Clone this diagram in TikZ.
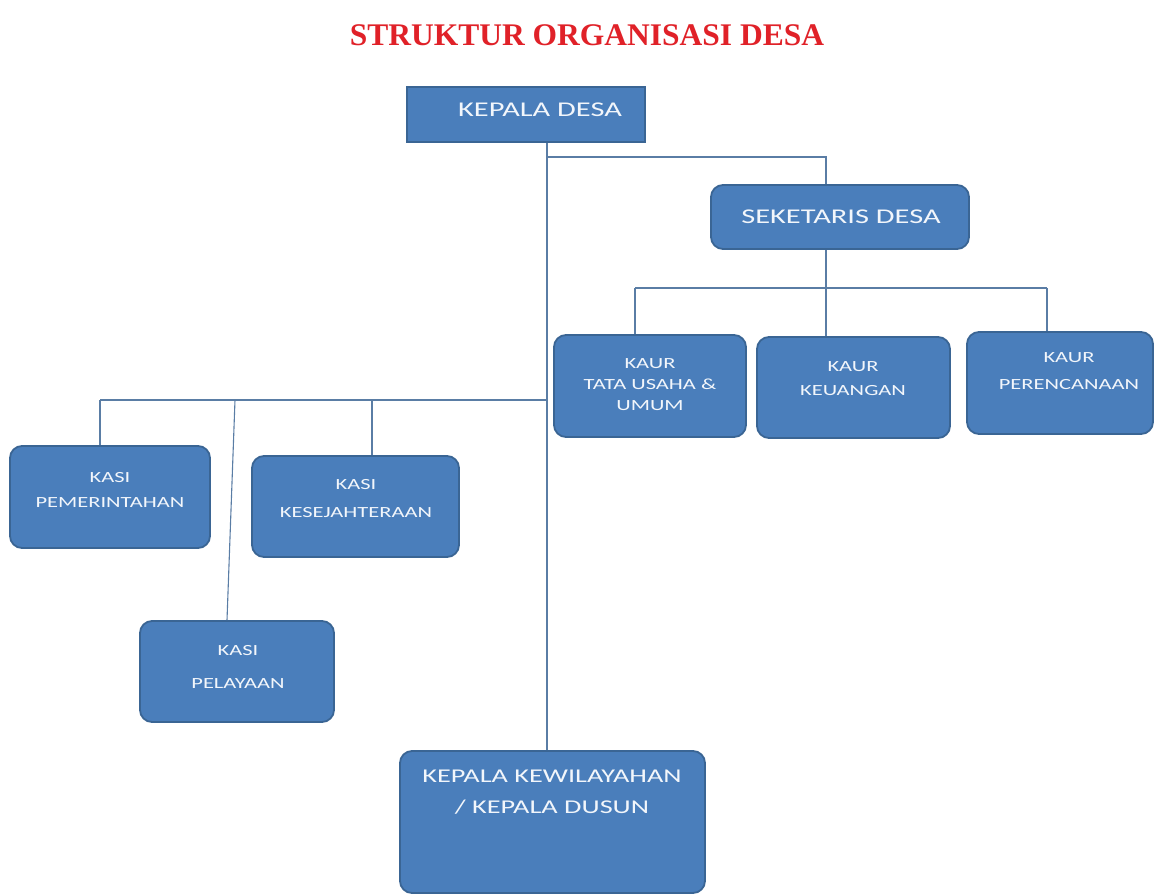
\documentclass[tikz,border=0pt]{standalone}
\usepackage{fontspec}
\newfontfamily\boxfont[FakeStretch=1.45]{Carlito}
\newfontfamily\titlefont{Liberation Serif}
\definecolor{boxfill}{HTML}{4A7EBB}
\definecolor{boxedge}{HTML}{3A6594}
\definecolor{boxtext}{HTML}{F2F6FB}
\definecolor{linecol}{HTML}{5A7DA5}
\definecolor{titlered}{HTML}{E02128}
\begin{document}
\begin{tikzpicture}[x=1pt,y=-1pt,
  box/.style={draw=boxedge, line width=1.8pt, fill=boxfill, rounded corners=12pt, inner sep=0pt},
  sqbox/.style={box, sharp corners},
  lbl/.style={text=boxtext, align=center, inner sep=0pt},
  small/.style={lbl, font=\boxfont\fontsize{15.5}{25}\selectfont},
  big/.style={lbl, font=\boxfont\fontsize{21}{30}\selectfont},
  conn/.style={draw=linecol, line width=1.1pt}]
\useasboundingbox (0,0) rectangle (1154,896);

% title
\node[text=titlered, font=\titlefont\bfseries\fontsize{31.5}{36}\selectfont, inner sep=0pt] (title) at (587,35) {STRUKTUR ORGANISASI DESA};

% boxes
\node[sqbox, minimum width=238, minimum height=55] (kd) at (526,114.5) {};
\node[box, minimum width=258, minimum height=64] (sd) at (840,217) {};
\node[box, minimum width=192, minimum height=102] (k1) at (650,386) {};
\node[box, minimum width=193, minimum height=101] (k2) at (853.5,387.5) {};
\node[box, minimum width=186, minimum height=102] (k3) at (1060,383) {};
\node[box, minimum width=200, minimum height=102] (ks1) at (110,497) {};
\node[box, minimum width=207, minimum height=101] (ks2) at (355.5,506.5) {};
\node[box, minimum width=194, minimum height=101] (ks3) at (237,671.5) {};
\node[box, minimum width=305, minimum height=142] (kw) at (552.5,822) {};

% labels
\node[big] (kdT) at (540,110) {KEPALA DESA};
\node[big] (sdT) at (841,217) {SEKETARIS DESA};
\node[small, font=\boxfont\fontsize{15.5}{21}\selectfont] (k1T) at (650,385) {KAUR\\TATA USAHA \&\\UMUM};
\node[small, font=\boxfont\fontsize{15.5}{24}\selectfont] (k2T) at (853,379) {KAUR\\KEUANGAN};
\node[small, font=\boxfont\fontsize{15.5}{27}\selectfont] (k3T) at (1069,371.5) {KAUR\\PERENCANAAN};
\node[small] (ks1T) at (110,489.5) {KASI\\PEMERINTAHAN};
\node[small, font=\boxfont\fontsize{15.5}{28}\selectfont] (ks2T) at (356,499) {KASI\\KESEJAHTERAAN};
\node[small, font=\boxfont\fontsize{15.5}{33}\selectfont] (ks3T) at (238,666.5) {KASI\\PELAYAAN};
\node[big, font=\boxfont\fontsize{19.5}{31}\selectfont] (kwT) at (552,792.5) {KEPALA KEWILAYAHAN\\/ KEPALA DUSUN};

% junction coordinates
\coordinate (sp) at (547,0);
\coordinate (sdx) at (826,0);
\coordinate (j1) at (547,157);
\coordinate (j2) at (826,288);
\coordinate (ja) at (635,288);
\coordinate (jc) at (1047,288);
\coordinate (jl) at (100,400);
\coordinate (jr) at (547,400);
\coordinate (jm) at (235,400);
\coordinate (jn) at (372,400);
\coordinate (jmb) at (227,0);

% connectors
\draw[conn] (kd.south -| sp) -- (kw.north -| sp);
\draw[conn] (j1) -| (sd.north -| sdx);
\draw[conn] (sd.south -| sdx) -- (k2.north -| sdx);
\draw[conn] (ja) -- (jc);
\draw[conn] (ja) -- (k1.north -| ja);
\draw[conn] (jc) -- (k3.north -| jc);
\draw[conn] (jl) -- (jr);
\draw[conn] (jl) -- (ks1.north -| jl);
\draw[conn] (jn) -- (ks2.north -| jn);
\draw[conn] (jm) -- (ks3.north -| jmb);
\end{tikzpicture}
\end{document}
